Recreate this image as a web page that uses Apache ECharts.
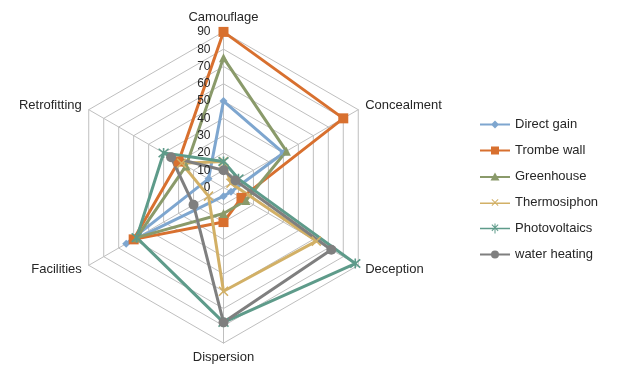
<!DOCTYPE html>
<html>
<head>
<meta charset="utf-8">
<script src="https://cdn.jsdelivr.net/npm/echarts@6/dist/echarts.min.js"></script>
<style>html,body{margin:0;padding:0;background:#fff}#c{width:617px;height:369px}</style>
</head>
<body>
<div id="c"></div>
<script>
// Axis categories in clockwise order starting at the top
var categories = ['Camouflage', 'Concealment', 'Deception', 'Dispersion', 'Facilities', 'Retrofitting'];
var tickLabels = [0, 10, 20, 30, 40, 50, 60, 70, 80, 90];
var seriesNames = ['Direct gain', 'Trombe wall', 'Greenhouse', 'Thermosiphon', 'Photovoltaics', 'water heating'];
var directGain    = [50, 40, 5, 5, 65, 10];
var trombeWall    = [90, 80, 12, 20, 60, 30];
var greenhouse    = [75, 42, 15, 15, 58, 25];
var thermosiphon  = [15, 5, 62, 60, 10, 28];
var photovoltaics = [15, 10, 88, 78, 58, 40];
var waterHeating  = [10, 8, 72, 78, 20, 35];

var allValues = [directGain, trombeWall, greenhouse, thermosiphon, photovoltaics, waterHeating];
var colors = ['#7EA6CF', '#D8702F', '#8A9A6A', '#D2B066', '#5E9B8A', '#7F7F7F'];
var symbols = [
  'diamond', 'rect', 'triangle',
  'path://M0,0L10,10M10,0L0,10',
  'path://M0,0L10,10M10,0L0,10M5,-1L5,11',
  'circle'
];
var symbolSizes = [8, 10, 9, 9, 10, 10];
var legendIcons = [
  'path://M0,6L30,6L30,8L0,8Z M15,3L19,7L15,11L11,7Z',
  'path://M0,6L30,6L30,8L0,8Z M11,3L19,3L19,11L11,11Z',
  'path://M0,6L30,6L30,8L0,8Z M15,2.5L19.5,10.5L10.5,10.5Z',
  'path://M0,6.2L30,6.2L30,7.8L0,7.8Z M11.5,3.5L12.2,2.8L15,5.6L17.8,2.8L18.5,3.5L15.7,6.3L18.5,9.1L17.8,9.8L15,7L12.2,9.8L11.5,9.1L14.3,6.3Z',
  'path://M0,6.2L30,6.2L30,7.8L0,7.8Z M11.5,3.5L12.2,2.8L15,5.6L17.8,2.8L18.5,3.5L15.7,6.3L18.5,9.1L17.8,9.8L15,7L12.2,9.8L11.5,9.1L14.3,6.3Z M14.5,2L15.5,2L15.5,12L14.5,12Z',
  'path://M0,6L30,6L30,8L0,8Z M15,3A4,4 0 1 1 14.99,3Z'
];

// ECharts lays radar indicators counterclockwise; reorder so they appear clockwise
var order = [0, 5, 4, 3, 2, 1];
var maxVal = tickLabels[tickLabels.length - 1];
var indicators = order.map(function (i) { return { name: categories[i], max: maxVal, min: 0 }; });

var cx = 223.5, cy = 187.5, R = 155.6;

var series = seriesNames.map(function (n, k) {
  return {
    type: 'radar',
    name: n,
    symbol: symbols[k],
    symbolSize: symbolSizes[k],
    lineStyle: { color: colors[k], width: 3 },
    itemStyle: { color: colors[k], borderColor: colors[k], borderWidth: (k === 3 || k === 4) ? 1.6 : 0 },
    emphasis: { disabled: true },
    data: [{ name: n, value: order.map(function (i) { return allValues[k][i]; }) }]
  };
});

var chart = echarts.init(document.getElementById('c'), null, { renderer: 'canvas' });
chart.setOption({
  animation: false,
  backgroundColor: '#fff',
  color: colors,
  textStyle: { fontFamily: 'Liberation Sans, Arial, sans-serif' },
  legend: {
    orient: 'vertical',
    left: 475,
    top: 113,
    itemWidth: 30,
    itemHeight: 14,
    itemGap: 13,
    itemStyle: { borderWidth: 0 },
    textStyle: { fontSize: 13, color: '#262626' },
    data: seriesNames.map(function (n, k) { return { name: n, icon: legendIcons[k] }; })
  },
  radar: {
    center: [cx, cy],
    radius: R,
    startAngle: 90,
    splitNumber: tickLabels.length - 1,
    shape: 'polygon',
    indicator: indicators,
    axisName: { color: '#262626', fontSize: 13 },
    nameGap: 8,
    axisLine: { lineStyle: { color: '#BFBFBF', width: 1 } },
    splitLine: { lineStyle: { color: '#BFBFBF', width: 1 } },
    splitArea: { show: false },
    axisTick: { show: false },
    axisLabel: { show: false }
  },
  grid: { left: cx, top: cy - R, height: R, width: 10 },
  xAxis: { type: 'value', show: false, min: 0, max: 1 },
  yAxis: {
    type: 'value', min: 0, max: maxVal, interval: 10, z: 10,
    axisLine: { show: false }, axisTick: { show: false }, splitLine: { show: false },
    axisLabel: { margin: 13, fontSize: 12, color: '#262626' }
  },
  series: series
});
</script>
</body>
</html>
